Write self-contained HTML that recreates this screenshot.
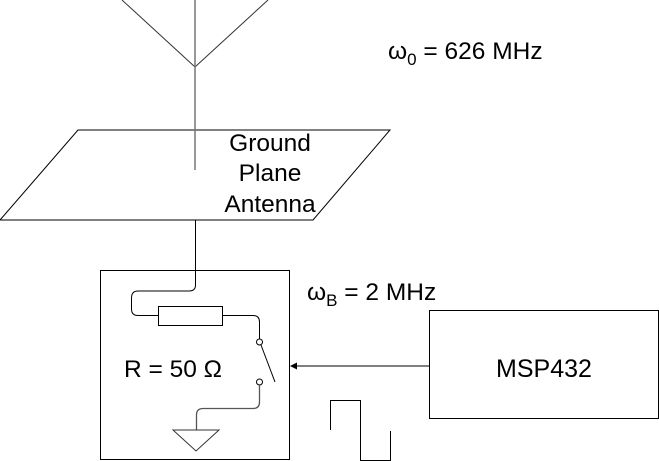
<!DOCTYPE html>
<html><head><meta charset="utf-8"><style>
html,body{margin:0;padding:0;background:#fff}
svg{display:block}
text{font-family:"Liberation Sans",sans-serif;fill:#000}
</style></head><body>
<svg width="659" height="461" viewBox="0 0 659 461" xmlns="http://www.w3.org/2000/svg">
<g fill="none" stroke="#000" stroke-width="1">
<line x1="122" y1="0" x2="195" y2="67" stroke="#333"/>
<line x1="268" y1="0" x2="195" y2="67" stroke="#333"/>
<polygon points="78,130 390,130 313,220 0,220" stroke="#000"/>
<line x1="195" y1="0" x2="195" y2="170" stroke="#777" stroke-width="1.5"/>
<rect x="100.5" y="270.5" width="189" height="189"/>
<path d="M195.5 220 V285 Q195.5 291 189 291 H138 Q131.5 291 131.5 298 V309 Q131.5 315.5 138 315.5 H158"/>
<rect x="158.5" y="306.5" width="64" height="19"/>
<path d="M222.5 315.5 H253 Q259.5 315.5 259.5 322 V339"/>
<circle cx="259.5" cy="342" r="3"/>
<line x1="261" y1="345" x2="275" y2="382"/>
<circle cx="259.5" cy="382" r="3"/>
<path d="M259.5 385 V402 Q259.5 408.5 253 408.5 H203 Q196.5 408.5 196.5 415 V430" stroke="#555" stroke-width="1.3"/>
<polygon points="173,430 219,430 196,451" stroke="#333"/>
<rect x="429.5" y="310.5" width="229" height="108"/>
<line x1="429" y1="366" x2="295" y2="366"/>
<polyline points="330.5,430 330.5,400.5 360.5,400.5 360.5,460.5 390.5,460.5 390.5,431"/>
</g>
<polygon points="290,366 297,362.5 297,369.5" fill="#000"/>
<text x="270" y="151" font-size="24.5" text-anchor="middle">Ground</text>
<text x="270" y="181" font-size="24.5" text-anchor="middle">Plane</text>
<text x="270" y="212" font-size="24.5" text-anchor="middle">Antenna</text>
<text x="388" y="59" font-size="24.5">ω<tspan font-size="17" dy="6">0</tspan><tspan dy="-6"> = 626 MHz</tspan></text>
<text x="307" y="300" font-size="24.5">ω<tspan font-size="17" dy="6">B</tspan><tspan dy="-6"> = 2 MHz</tspan></text>
<text x="124" y="377" font-size="24.5">R = 50 Ω</text>
<text x="544" y="377" font-size="25" text-anchor="middle">MSP432</text>
</svg>
</body></html>
